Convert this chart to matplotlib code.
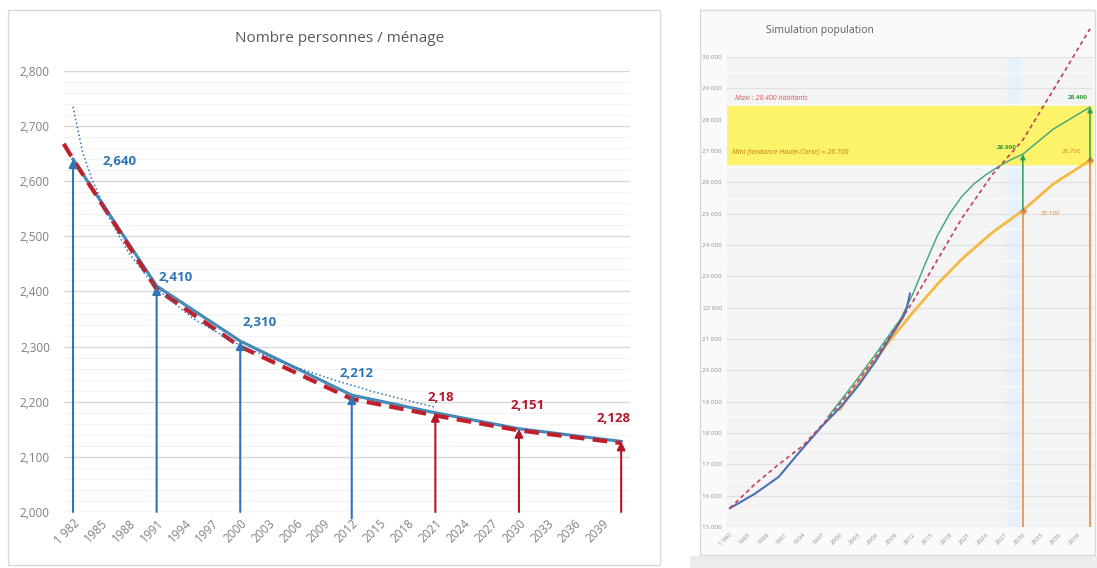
import numpy as np
import matplotlib.pyplot as plt
from matplotlib.patches import Rectangle
from matplotlib.ticker import MultipleLocator, FuncFormatter

plt.rcParams['font.family'] = ['Open Sans', 'DejaVu Sans']

# --- left chart: persons per household ---
tick_years = list(range(1982, 2040, 3))
key_years = [1982, 1991, 2000, 2012, 2021, 2030, 2041]
key_vals = [2.640, 2.410, 2.310, 2.212, 2.18, 2.151, 2.128]
key_labels = ['2,640', '2,410', '2,310', '2,212', '2,18', '2,151', '2,128']
key_is_proj = [False, False, False, False, True, True, True]

red_years = [1981, 1982, 1991, 2000, 2012, 2021, 2030, 2041]
red_vals = [2.668, 2.640, 2.404, 2.300, 2.205, 2.175, 2.148, 2.125]

trend_years = [1982, 1983, 1984, 1986, 1988, 1991, 1995, 2000, 2005, 2010, 2015, 2021]
trend_vals = [2.735, 2.655, 2.605, 2.530, 2.470, 2.405, 2.350, 2.302, 2.268, 2.240, 2.215, 2.190]

# label anchor (year, value) for each key label
lab_x = [1987.0, 1993.0, 2002.1, 2012.5, 2021.6, 2030.9, 2040.2]
lab_y = [2.635, 2.426, 2.343, 2.252, 2.208, 2.194, 2.170]

# --- right chart: population simulation ---
pop_years_hist = [1982, 1986, 1990, 1993, 1997, 2000, 2003, 2006, 2008, 2010.4, 2011, 2011.5]
pop_hist = [15600, 16050, 16600, 17300, 18200, 18800, 19500, 20330, 20970, 21700, 22000, 22450]

pop_years_trend = [1982, 1986, 1990, 1994, 1998, 2002, 2006, 2009, 2012, 2020, 2025, 2030, 2035, 2041]
pop_trend = [15600, 16350, 17000, 17600, 18450, 19400, 20450, 21300, 22200, 24850, 26250, 27350, 28950, 30900]

pop_years_high = [1998, 2002, 2006, 2010, 2012, 2014, 2016, 2018, 2020, 2022, 2024, 2026, 2028, 2030, 2035, 2041]
pop_high = [18500, 19500, 20550, 21650, 22450, 23400, 24300, 25000, 25550, 25950, 26250, 26500, 26720, 26900, 27700, 28400]

pop_years_low = [2000, 2004, 2008, 2012, 2016, 2020, 2025, 2030, 2035, 2041]
pop_low = [18750, 19850, 20900, 21850, 22750, 23550, 24400, 25100, 25950, 26700]

band_lo, band_hi = 26600, 28450

fig = plt.figure(figsize=(10.97, 5.68), dpi=100)

# panel frames
for xy, w, h, fc in [((8, 3), 652, 555, 'white'), ((700, 13), 395, 545, '#fafafa')]:
    fig.add_artist(Rectangle((xy[0] / 1097, xy[1] / 568), w / 1097, h / 568, transform=fig.transFigure,
                             facecolor=fc, edgecolor='#d9d9d9', lw=1, zorder=-10))
fig.add_artist(Rectangle((690 / 1097, 0), 407 / 1097, 12 / 568, transform=fig.transFigure,
                         facecolor='#ececec', edgecolor='none', zorder=-10))

# ---------------- left
ax = fig.add_axes([0.0581, 0.0986, 0.5166, 0.7764])
ax.set_xlim(1981, 2042)
ax.set_ylim(2.0, 2.8)
ax.patch.set_alpha(0)
for s in ax.spines.values():
    s.set_visible(False)
ax.yaxis.set_major_locator(MultipleLocator(0.1))
ax.yaxis.set_minor_locator(MultipleLocator(0.02))
ax.grid(which='major', axis='y', color='#d9d9d9', lw=1)
ax.grid(which='minor', axis='y', color='#f3f3f3', lw=0.8)
ax.set_axisbelow(True)
ax.yaxis.set_major_formatter(FuncFormatter(lambda v, p: f'{v:.3f}'.replace('.', ',')))
ax.tick_params(axis='both', length=0, labelsize=8.5, labelcolor='#808080')
ax.tick_params(axis='y', pad=10)
ax.tick_params(which='minor', length=0)
ax.set_xticks(tick_years)
ax.set_xticklabels(['1 982'] + [str(y) for y in tick_years[1:]], rotation=45, ha='right',
                   rotation_mode='anchor')

ax.plot(key_years, key_vals, color='#3a7dbf', lw=2.2, zorder=3)
ax.plot(key_years, key_vals, color='#5aa9a0', lw=0.8, zorder=3, alpha=0.6)
ax.plot(red_years, red_vals, color='#c0202a', lw=3, dashes=(3.5, 2), zorder=4, clip_on=False)
ax.plot(trend_years, trend_vals, color='#2e75b6', lw=1.1, ls=':', zorder=4)

for yr, v, lab, lx, ly, proj in zip(key_years, key_vals, key_labels, lab_x, lab_y, key_is_proj):
    c = '#b5172a' if proj else '#2e75b6'
    y0 = 1.988 if yr == 2012 else 2.0
    ax.annotate('', xy=(yr, v), xytext=(yr, y0), annotation_clip=False,
                arrowprops=dict(arrowstyle='-|>', color=c, lw=1.5, mutation_scale=12,
                                shrinkA=0, shrinkB=0), zorder=5)
    ax.text(lx, ly, lab, color=c, fontsize=9.5, fontweight='bold', ha='center', va='center')

fig.text(340 / 1097, 1 - 38 / 568, 'Nombre personnes / ménage', fontsize=11, color='#595959',
         ha='center', va='center')

# ---------------- right
ax2 = fig.add_axes([0.6626, 0.0722, 0.3338, 0.8275])
ax2.set_xlim(1981.5, 2041.5)
ax2.set_ylim(15000, 30000)
ax2.set_facecolor('#f4f4f4')
for s in ax2.spines.values():
    s.set_visible(False)
ax2.yaxis.set_major_locator(MultipleLocator(1000))
ax2.yaxis.set_minor_locator(MultipleLocator(500))
ax2.grid(which='major', axis='y', color='#e2e2e2', lw=0.9)
ax2.grid(which='minor', axis='y', color='#fbfbfb', lw=0.8)
ax2.set_axisbelow(True)
ax2.yaxis.set_major_formatter(FuncFormatter(lambda v, p: f'{int(v):,}'.replace(',', ' ')))
ax2.tick_params(axis='both', length=0, labelsize=4.5, labelcolor='#909090')
ax2.tick_params(which='minor', length=0)
ax2.set_xticks(tick_years)
ax2.set_xticklabels(['1 982'] + [str(y) for y in tick_years[1:]], rotation=45, ha='right',
                    rotation_mode='anchor')

ax2.axvspan(2027.4, 2029.6, color='#e6f1fb', zorder=0.5)
ax2.axhspan(band_lo, band_hi, color='#fdf36a', zorder=0.8)
ax2.text(1982.8, 28690, 'Maxi : 28.400 habitants', color='#e0505a', fontsize=5, style='italic',
         va='center')
ax2.text(1982.3, 26970, 'Mini (tendance Haute-Corse) = 26.700', color='#c07a10', fontsize=5,
         style='italic', va='center')

ax2.plot(pop_years_low, pop_low, color='#f5b942', lw=2, zorder=3)
ax2.plot(pop_years_high, pop_high, color='#3aa57a', lw=1, zorder=3)
ax2.plot(pop_years_hist, pop_hist, color='#4a6fb5', lw=1.5, zorder=4)
ax2.plot(pop_years_trend, pop_trend, color='#c0405a', lw=1.2, ls=(0, (2.5, 2)), zorder=4, clip_on=False)

for yr, lo, hi in [(2030, pop_low[7], pop_high[13]), (2041, pop_low[-1], pop_high[-1])]:
    ax2.plot([yr, yr], [15000, lo], color='#e0904a', lw=1.2, zorder=2)
    ax2.plot(yr, lo, marker='D', color='#e0904a', ms=3, zorder=5)
    ax2.annotate('', xy=(yr, hi), xytext=(yr, lo),
                 arrowprops=dict(arrowstyle='-|>', color='#2e9a5a', lw=1.1, mutation_scale=7,
                                 shrinkA=0, shrinkB=0), zorder=5)

ax2.text(2027.4, 27100, '26.900', color='#2e9a3a', fontsize=4.5, fontweight='bold', ha='center', va='center')
ax2.text(2039.0, 28720, '28.400', color='#2e9a3a', fontsize=4.5, fontweight='bold', ha='center', va='center')
ax2.text(2038.0, 26970, '26.700', color='#d08020', fontsize=4.5, ha='center', va='center')
ax2.text(2034.6, 25020, '25.100', color='#e08a40', fontsize=4.5, ha='center', va='center')

fig.text(820 / 1097, 1 - 30 / 568, 'Simulation population', fontsize=7.5, color='#606060',
         ha='center', va='center')

fig.savefig('out.png', dpi=100)
